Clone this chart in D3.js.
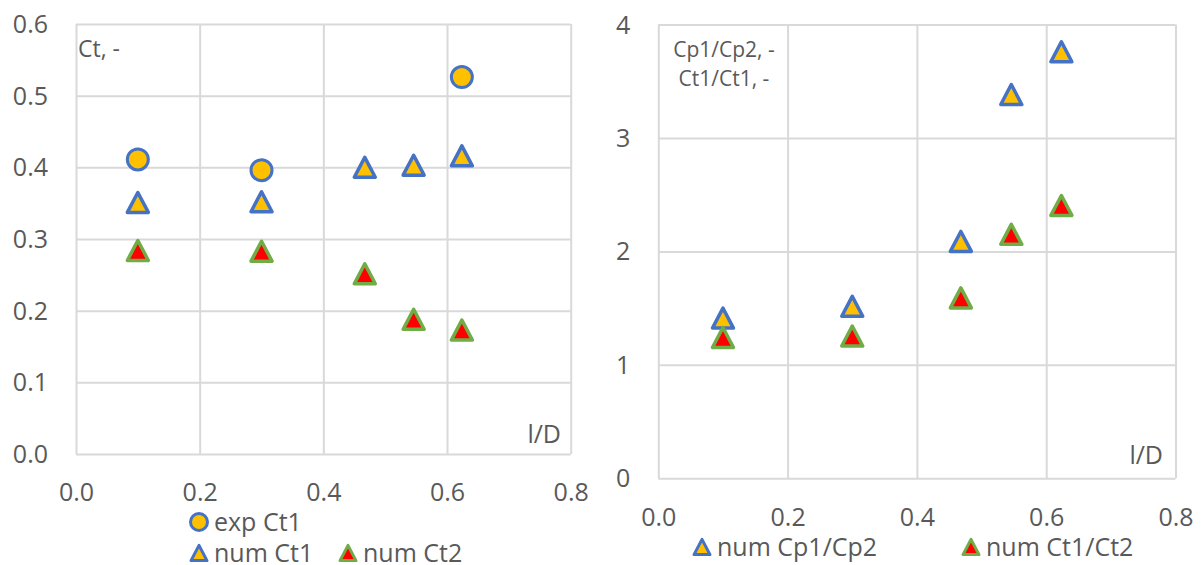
<!DOCTYPE html>
<html><head><meta charset="utf-8">
<script src="https://cdn.jsdelivr.net/npm/d3@7"></script>
<style>
body{margin:0;background:#fff;}
svg{display:block;font-family:"Open Sans",sans-serif;}
</style></head>
<body><svg id="c" width="1202" height="565"></svg>
<script>
// ---- data ----
const expX = [0.1, 0.3, 0.624];
const expCt1 = [0.411, 0.396, 0.526];
const numX = [0.1, 0.3, 0.467, 0.546, 0.624];
const numCt1 = [0.351, 0.352, 0.400, 0.403, 0.416];
const numCt2 = [0.284, 0.283, 0.2515, 0.188, 0.173];
const ratioX = [0.1, 0.3, 0.468, 0.546, 0.6235];
const numCp1Cp2 = [1.412, 1.516, 2.088, 3.383, 3.76];
const numCt1Ct2 = [1.241, 1.254, 1.59, 2.15, 2.405];
const xTicks = [0, 0.2, 0.4, 0.6, 0.8];
const yTicksLeft = [0, 0.1, 0.2, 0.3, 0.4, 0.5, 0.6];
const yTicksRight = [0, 1, 2, 3, 4];

const BLUE="#4472C4", YELLOW="#FFC000", GREEN="#70AD47", RED="#FF0000", GRID="#D9D9D9", TXT="#595959";
const svg = d3.select("#c");

function tri(s){ const w=s, h=s*0.95; return `M0,${-h/2}L${w/2},${h/2}L${-w/2},${h/2}Z`; }

function panel(cfg){
  const g = svg.append("g");
  const x = d3.scaleLinear().domain([0,0.8]).range([cfg.x0,cfg.x1]);
  const y = d3.scaleLinear().domain(cfg.ydom).range([cfg.y1,cfg.y0]);
  // gridlines
  const gy = g.append("g").attr("transform",`translate(${cfg.x0},0)`)
    .call(d3.axisLeft(y).tickValues(cfg.yticks).tickSize(-(cfg.x1-cfg.x0)).tickFormat(cfg.yfmt).tickPadding(28));
  const gx = g.append("g").attr("transform",`translate(0,${cfg.y1})`)
    .call(d3.axisBottom(x).tickValues(xTicks).tickSize(-(cfg.y1-cfg.y0)).tickFormat(d3.format(".1f")).tickPadding(26));
  [gx,gy].forEach(a=>{
    a.select(".domain").remove();
    a.selectAll(".tick line").attr("stroke",GRID).attr("stroke-width",2);
    a.selectAll(".tick text").attr("fill",TXT).attr("font-size",25).attr("font-family","Open Sans");
  });
  gx.selectAll(".tick text").attr("dy","0").attr("y",cfg.xlabBase-cfg.y1);
  gy.selectAll(".tick text").attr("dy","0.34em");
  // series
  cfg.series.forEach(s=>{
    const pts = s.xs.map((d,i)=>[d,s.ys[i]]);
    if(s.shape==="circle"){
      g.append("g").selectAll("circle").data(pts).join("circle")
        .attr("cx",d=>x(d[0])).attr("cy",d=>y(d[1])).attr("r",10.5)
        .attr("fill",s.fill).attr("stroke",s.stroke).attr("stroke-width",3);
    } else {
      g.append("g").selectAll("path").data(pts).join("path")
        .attr("transform",d=>`translate(${x(d[0])},${y(d[1])})`).attr("d",tri(21))
        .attr("fill",s.fill).attr("stroke",s.stroke).attr("stroke-width",3.5).attr("stroke-linejoin","round");
    }
  });
  // axis titles
  cfg.ytitle.forEach((t,i)=>{
    g.append("text").attr("x",cfg.ytx).attr("y",cfg.yty+i*cfg.ytlh).attr("text-anchor",cfg.ytanchor)
      .attr("fill",TXT).attr("font-size",cfg.ytsize).text(t);
  });
  g.append("text").attr("x",cfg.lx).attr("y",cfg.ly).attr("text-anchor","end")
    .attr("fill",TXT).attr("font-size",25).text("l/D");
  // legend
  cfg.legend.forEach(l=>{
    if(l.shape==="circle"){
      g.append("circle").attr("cx",l.mx).attr("cy",l.my).attr("r",8.5)
        .attr("fill",l.fill).attr("stroke",l.stroke).attr("stroke-width",3);
    } else {
      g.append("path").attr("transform",`translate(${l.mx},${l.my})`).attr("d",tri(16))
        .attr("fill",l.fill).attr("stroke",l.stroke).attr("stroke-width",3).attr("stroke-linejoin","round");
    }
    g.append("text").attr("x",l.mx+15).attr("y",l.my+9).attr("fill",TXT).attr("font-size",25).text(l.text);
  });
}

panel({
  x0:76, x1:570.7, y0:24, y1:454, ydom:[0,0.6], yticks:yTicksLeft, yfmt:d3.format(".1f"),
  xlabBase:501,
  series:[
    {xs:expX, ys:expCt1, shape:"circle", fill:YELLOW, stroke:BLUE},
    {xs:numX, ys:numCt1, shape:"tri", fill:YELLOW, stroke:BLUE},
    {xs:numX, ys:numCt2, shape:"tri", fill:RED, stroke:GREEN}
  ],
  ytitle:["Ct, -"], ytx:78, yty:57, ytlh:0, ytanchor:"start", ytsize:23,
  lx:561, ly:443,
  legend:[
    {shape:"circle", fill:YELLOW, stroke:BLUE, mx:199, my:522, text:"exp Ct1"},
    {shape:"tri", fill:YELLOW, stroke:BLUE, mx:199, my:553, text:"num Ct1"},
    {shape:"tri", fill:RED, stroke:GREEN, mx:348, my:553, text:"num Ct2"}
  ]
});

panel({
  x0:658.3, x1:1175.5, y0:24.5, y1:478.3, ydom:[0,4], yticks:yTicksRight, yfmt:d3.format("d"),
  xlabBase:526,
  series:[
    {xs:ratioX, ys:numCp1Cp2, shape:"tri", fill:YELLOW, stroke:BLUE},
    {xs:ratioX, ys:numCt1Ct2, shape:"tri", fill:RED, stroke:GREEN}
  ],
  ytitle:["Cp1/Cp2, -","Ct1/Ct1, -"], ytx:724, yty:57, ytlh:28.7, ytanchor:"middle", ytsize:21,
  lx:1163, ly:464,
  legend:[
    {shape:"tri", fill:YELLOW, stroke:BLUE, mx:702, my:547, text:"num Cp1/Cp2"},
    {shape:"tri", fill:RED, stroke:GREEN, mx:971, my:547, text:"num Ct1/Ct2"}
  ]
});
</script></body></html>
